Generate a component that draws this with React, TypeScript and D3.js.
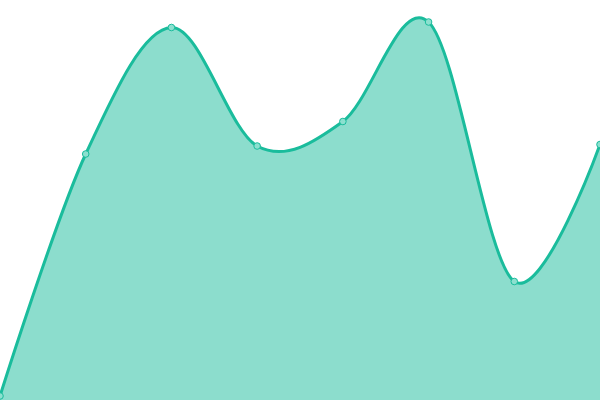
import React from "react";
import * as d3 from "d3";

const categories = ["A", "B", "C", "D", "E", "F", "G", "H"];
const values = [4, 246, 372.5, 254, 278.5, 378, 118.5, 255.5];

const W = 600;
const H = 400;

export default function App() {
  const x = d3.scalePoint<string>().domain(categories).range([0, W]);
  const y = d3.scaleLinear().domain([0, 400]).range([H, 0]);
  const data = categories.map((c, i) => ({ c, v: values[i] }));
  const curve = d3.curveCardinal.tension(0);
  const area = d3
    .area<{ c: string; v: number }>()
    .x((d) => x(d.c) as number)
    .y0(H)
    .y1((d) => y(d.v))
    .curve(curve);
  const line = d3
    .line<{ c: string; v: number }>()
    .x((d) => x(d.c) as number)
    .y((d) => y(d.v))
    .curve(curve);
  return (
    <svg
      width={W}
      height={H}
      style={{ position: "absolute", left: 0, top: 0, display: "block" }}
    >
      <path d={area(data) || ""} fill="#1abc9c" fillOpacity={0.5} />
      <path d={line(data) || ""} fill="none" stroke="#1abc9c" strokeWidth={3} />
      {data.map((d) => (
        <circle
          key={d.c}
          cx={x(d.c) as number}
          cy={y(d.v)}
          r={3.3}
          fill="#8ce0cf"
          stroke="#1abc9c"
          strokeWidth={1}
        />
      ))}
    </svg>
  );
}
